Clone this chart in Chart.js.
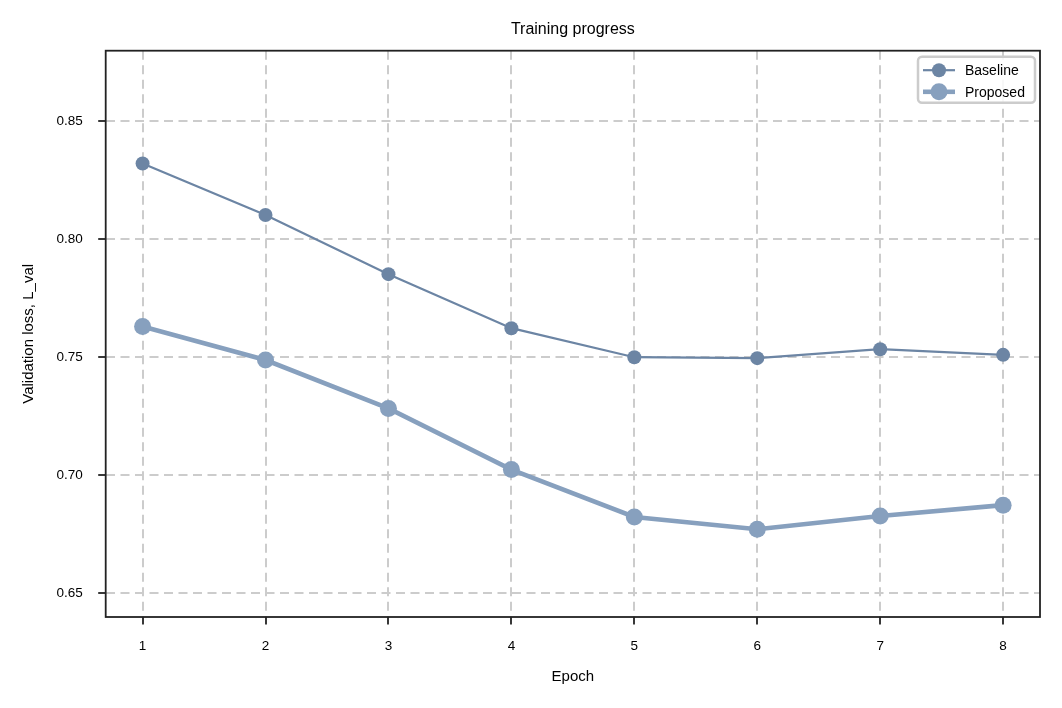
<!DOCTYPE html>
<html>
<head>
<meta charset="utf-8">
<title>Training progress</title>
<script src="https://cdn.jsdelivr.net/npm/chart.js@4.4.1/dist/chart.umd.min.js"></script>
<style>
  html, body { margin: 0; padding: 0; background: #ffffff; }
  #wrap { width: 1062px; height: 708px; position: relative; }
</style>
</head>
<body>
<div id="wrap"><canvas id="chart"></canvas></div>
<script>
// values
const epochs = [1, 2, 3, 4, 5, 6, 7, 8];
const baselineLoss = [0.8322, 0.8104, 0.7853, 0.7624, 0.7501, 0.7497, 0.7535, 0.7511];
const proposedLoss = [0.7631, 0.7489, 0.7284, 0.7025, 0.6824, 0.6772, 0.6828, 0.6874];
const yTicks = [0.65, 0.70, 0.75, 0.80, 0.85];

const FONT = "'Liberation Sans', Arial, sans-serif";
const baseColor = '#6c85a4';
const propColor = '#87a0be';

const toPoints = (vals) => epochs.map((e, i) => ({ x: e, y: vals[i] }));

// full box round the plot, like matplotlib spines
const framePlugin = {
  id: 'frame',
  afterDatasetsDraw(chart) {
    const { ctx, chartArea: a } = chart;
    ctx.save();
    ctx.strokeStyle = '#222222';
    ctx.lineWidth = 1.8;
    ctx.strokeRect(a.left, a.top, a.right - a.left, a.bottom - a.top);
    ctx.restore();
  }
};

// legend with line + marker handles, drawn from the datasets
const legendBox = {
  id: 'legendBox',
  afterDraw(chart) {
    const { ctx, chartArea: a } = chart;
    const sets = chart.data.datasets;
    const w = 117, h = 46;
    const x0 = a.right - 5 - w, y0 = a.top + 6;
    ctx.save();
    ctx.beginPath();
    ctx.roundRect(x0, y0, w, h, 4);
    ctx.fillStyle = 'rgba(255,255,255,0.85)';
    ctx.fill();
    ctx.strokeStyle = '#cccccc';
    ctx.lineWidth = 2.5;
    ctx.stroke();
    ctx.font = '14px ' + FONT;
    ctx.textBaseline = 'middle';
    sets.forEach((ds, i) => {
      const y = y0 + 13.5 + i * 21.6;
      ctx.strokeStyle = ds.borderColor;
      ctx.lineWidth = ds.borderWidth;
      ctx.beginPath();
      ctx.moveTo(x0 + 5, y);
      ctx.lineTo(x0 + 37, y);
      ctx.stroke();
      ctx.fillStyle = ds.pointBackgroundColor;
      ctx.beginPath();
      ctx.arc(x0 + 21, y, ds.pointRadius, 0, Math.PI * 2);
      ctx.fill();
      ctx.fillStyle = '#000000';
      ctx.fillText(ds.label, x0 + 47, y + 1);
    });
    ctx.restore();
  }
};

const ctx = document.getElementById('chart').getContext('2d');
new Chart(ctx, {
  type: 'line',
  data: {
    datasets: [
      {
        label: 'Baseline',
        data: toPoints(baselineLoss),
        borderColor: baseColor,
        backgroundColor: baseColor,
        pointBackgroundColor: baseColor,
        pointBorderWidth: 0,
        pointRadius: 7,
        borderWidth: 2.2,
        fill: false,
      },
      {
        label: 'Proposed',
        data: toPoints(proposedLoss),
        borderColor: propColor,
        backgroundColor: propColor,
        pointBackgroundColor: propColor,
        pointBorderWidth: 0,
        pointRadius: 8.5,
        borderWidth: 4.6,
        fill: false,
      },
    ],
  },
  options: {
    responsive: true,
    maintainAspectRatio: false,
    animation: false,
    layout: { padding: { left: 0, right: 22, top: 0, bottom: 0 } },
    plugins: {
      legend: { display: false },
      tooltip: { enabled: false },
      title: {
        display: true,
        text: 'Training progress',
        fullSize: false,
        color: '#000000',
        font: { family: FONT, size: 16, weight: 'normal' },
        padding: { top: 19.5, bottom: 12 },
      },
    },
    scales: {
      x: {
        type: 'linear',
        min: 0.7,
        max: 8.3,
        afterFit: (s) => { s.height = 91; },
        afterBuildTicks: (s) => { s.ticks = epochs.map(v => ({ value: v })); },
        ticks: {
          color: '#000000',
          font: { family: FONT, size: 13.5 },
          padding: 14,
          maxRotation: 0,
          callback: (v) => String(v),
        },
        grid: {
          color: '#cccccc',
          lineWidth: 2,
          tickColor: '#222222',
          tickWidth: 1.8,
          tickLength: 7.5,
          tickBorderDash: [],
        },
        border: { display: false, dash: [9, 5.5] },
        title: {
          display: true,
          text: 'Epoch',
          color: '#000000',
          font: { family: FONT, size: 15 },
          padding: { top: 0, bottom: 22 },
        },
      },
      y: {
        min: 0.64,
        max: 0.88,
        afterFit: (s) => { s.width = 105.7; },
        afterBuildTicks: (s) => { s.ticks = yTicks.map(v => ({ value: v })); },
        ticks: {
          color: '#000000',
          font: { family: FONT, size: 13.5 },
          padding: 15.5,
          callback: (v) => Number(v).toFixed(2),
        },
        grid: {
          color: '#cccccc',
          lineWidth: 2,
          tickColor: '#222222',
          tickWidth: 1.8,
          tickLength: 7.5,
          tickBorderDash: [],
        },
        border: { display: false, dash: [9, 5.5] },
        title: {
          display: true,
          text: 'Validation loss, L_val',
          color: '#000000',
          font: { family: FONT, size: 15 },
          padding: { top: 20, bottom: 0 },
        },
      },
    },
  },
  plugins: [framePlugin, legendBox],
});
</script>
</body>
</html>
